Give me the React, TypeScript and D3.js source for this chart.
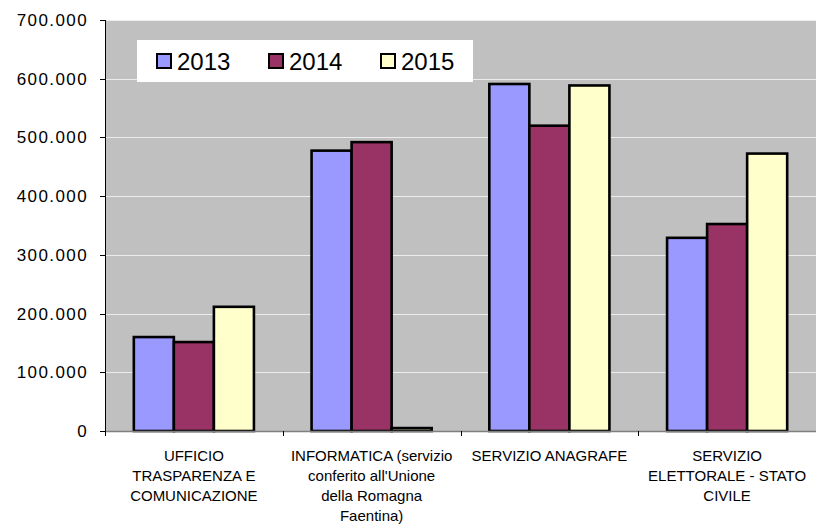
import React, { useEffect, useRef } from "react";
import * as d3 from "d3";

// categories and their wrapped labels (as in the original chart)
const categories = [
  "UFFICIO TRASPARENZA E COMUNICAZIONE",
  "INFORMATICA (servizio conferito all'Unione della Romagna Faentina)",
  "SERVIZIO ANAGRAFE",
  "SERVIZIO ELETTORALE - STATO CIVILE",
];
const categoryLines = [
  ["UFFICIO", "TRASPARENZA E", "COMUNICAZIONE"],
  ["INFORMATICA (servizio", "conferito all'Unione", "della Romagna", "Faentina)"],
  ["SERVIZIO ANAGRAFE"],
  ["SERVIZIO", "ELETTORALE - STATO", "CIVILE"],
];

const years = ["2013", "2014", "2015"];
const values2013 = [160000, 477500, 591000, 329000];
const values2014 = [151500, 492000, 520000, 352500];
const values2015 = [211500, 5000, 588500, 472500];
const yearColors = ["#9999FF", "#993366", "#FFFFCC"];
const yTicks = [0, 100000, 200000, 300000, 400000, 500000, 600000, 700000];

const FONT = "'Liberation Sans', Arial, sans-serif";

const App = () => {
  const ref = useRef<SVGSVGElement>(null);

  useEffect(() => {
    const width = 816,
      height = 526;
    const plot = { left: 105, right: 816, top: 20, bottom: 431 };
    const series = [values2013, values2014, values2015];

    const svg = d3.select(ref.current);
    svg.selectAll("*").remove();

    const itFormat = d3
      .formatLocale({ decimal: ",", thousands: ".", grouping: [3], currency: ["€", ""] })
      .format(",.0f");

    const x = d3
      .scaleBand()
      .domain(categories)
      .range([plot.left, plot.right])
      .paddingInner(0)
      .paddingOuter(0);

    const xYear = d3
      .scaleBand()
      .domain(years)
      .range([0, x.bandwidth()])
      .paddingInner(0)
      .paddingOuter(0.72);

    const y = d3
      .scaleLinear()
      .domain([0, 700000])
      .range([plot.bottom, plot.top]);

    // plot background
    svg
      .append("rect")
      .attr("x", plot.left)
      .attr("y", plot.top)
      .attr("width", plot.right - plot.left)
      .attr("height", plot.bottom - plot.top)
      .attr("fill", "#C0C0C0");

    // gridlines
    svg
      .append("g")
      .selectAll("line")
      .data(yTicks.filter((d) => d > 0))
      .enter()
      .append("line")
      .attr("x1", plot.left)
      .attr("x2", plot.right)
      .attr("y1", (d) => Math.round(y(d)) + 0.5)
      .attr("y2", (d) => Math.round(y(d)) + 0.5)
      .attr("stroke", "#ececec")
      .attr("stroke-width", 1.2);

    // bars
    const groups = svg
      .append("g")
      .selectAll("g")
      .data(categories)
      .enter()
      .append("g")
      .attr("transform", (d) => `translate(${x(d)},0)`);

    groups
      .selectAll("rect")
      .data((d, i) => years.map((yr, j) => ({ yr, j, v: series[j][i] })))
      .enter()
      .append("rect")
      .attr("x", (d) => xYear(d.yr)!)
      .attr("y", (d) => y(d.v))
      .attr("width", xYear.bandwidth())
      .attr("height", (d) => y(0) - y(d.v))
      .attr("fill", (d) => yearColors[d.j])
      .attr("stroke", "#000")
      .attr("stroke-width", 2.6);

    // x axis line and ticks
    svg
      .append("line")
      .attr("x1", plot.left)
      .attr("x2", plot.right)
      .attr("y1", plot.bottom + 0.5)
      .attr("y2", plot.bottom + 0.5)
      .attr("stroke", "#808080")
      .attr("stroke-width", 1.5);

    svg
      .append("g")
      .selectAll("line")
      .data(categories.slice(1))
      .enter()
      .append("line")
      .attr("x1", (d) => Math.round(x(d)!) + 0.5)
      .attr("x2", (d) => Math.round(x(d)!) + 0.5)
      .attr("y1", plot.bottom)
      .attr("y2", plot.bottom + 5)
      .attr("stroke", "#000");

    // y axis
    svg
      .append("line")
      .attr("x1", plot.left + 0.5)
      .attr("x2", plot.left + 0.5)
      .attr("y1", plot.top)
      .attr("y2", plot.bottom + 5)
      .attr("stroke", "#000");

    const yAxis = svg.append("g");
    yAxis
      .selectAll("line")
      .data(yTicks)
      .enter()
      .append("line")
      .attr("x1", plot.left - 5)
      .attr("x2", plot.left)
      .attr("y1", (d) => Math.round(y(d)) + 0.5)
      .attr("y2", (d) => Math.round(y(d)) + 0.5)
      .attr("stroke", "#000");

    yAxis
      .selectAll("text")
      .data(yTicks)
      .enter()
      .append("text")
      .attr("x", 88)
      .attr("y", (d) => y(d) + 6)
      .attr("text-anchor", "end")
      .attr("font-family", FONT)
      .attr("font-size", 17)
      .attr("letter-spacing", 1.4)
      .attr("fill", "#000")
      .text((d) => itFormat(d));

    // category labels
    const labels = svg
      .append("g")
      .selectAll("text")
      .data(categories)
      .enter()
      .append("text")
      .attr("text-anchor", "middle")
      .attr("font-family", FONT)
      .attr("font-size", 15)
      .attr("fill", "#000");

    labels
      .selectAll("tspan")
      .data((d, i) => categoryLines[i].map((line) => ({ line, cat: d })))
      .enter()
      .append("tspan")
      .attr("x", (d) => x(d.cat)! + x.bandwidth() / 2)
      .attr("y", (d, k) => 460.5 + k * 20.2)
      .text((d) => d.line);

    // legend
    const legend = svg.append("g");
    legend
      .append("rect")
      .attr("x", 137)
      .attr("y", 40)
      .attr("width", 336)
      .attr("height", 42)
      .attr("fill", "#fff");

    const items = legend
      .selectAll("g")
      .data(years)
      .enter()
      .append("g")
      .attr("transform", (d, i) => `translate(${156 + i * 112},0)`);

    items
      .append("rect")
      .attr("x", 1)
      .attr("y", 54)
      .attr("width", 14)
      .attr("height", 14)
      .attr("fill", (d, i) => yearColors[i])
      .attr("stroke", "#000")
      .attr("stroke-width", 2);

    items
      .append("text")
      .attr("x", 21)
      .attr("y", 70)
      .attr("font-family", FONT)
      .attr("font-size", 24)
      .attr("fill", "#000")
      .text((d) => d);

    svg.attr("width", width).attr("height", height);
  }, []);

  return (
    <svg
      ref={ref}
      width={816}
      height={526}
      style={{ position: "absolute", left: 0, top: 0, background: "#fff", display: "block" }}
    />
  );
};

export default App;
